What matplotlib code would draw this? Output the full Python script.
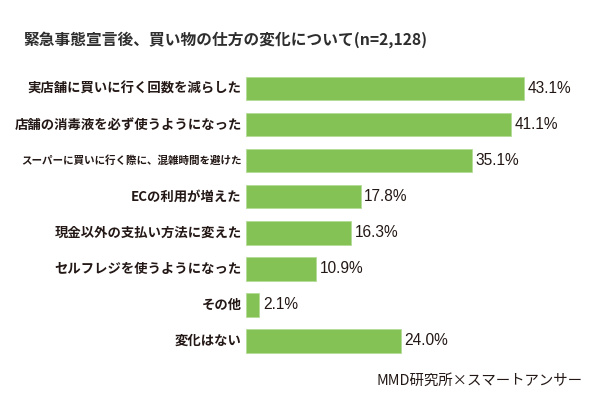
import matplotlib.pyplot as plt

plt.rcParams['font.family'] = ['Noto Sans CJK JP', 'DejaVu Sans']

# データ
categories = [
    "実店舗に買いに行く回数を減らした",
    "店舗の消毒液を必ず使うようになった",
    "スーパーに買いに行く際に、混雑時間を避けた",
    "ECの利用が増えた",
    "現金以外の支払い方法に変えた",
    "セルフレジを使うようになった",
    "その他",
    "変化はない",
]
values = [43.1, 41.1, 35.1, 17.8, 16.3, 10.9, 2.1, 24.0]
value_labels = ["43.1%", "41.1%", "35.1%", "17.8%", "16.3%", "10.9%", "2.1%", "24.0%"]

title = "緊急事態宣言後、買い物の仕方の変化について(n=2,128)"
source = "MMD研究所×スマートアンサー"

bar_color = "#84c255"
text_color = "#231815"

fig = plt.figure(figsize=(6, 4.15), dpi=100)
ax = fig.add_axes([245.7 / 600, 0.1354, 322.5 / 600, 0.695])

ypos = list(range(len(categories)))
ax.barh(ypos, values, height=0.66, color=bar_color, edgecolor="#b5dc98", linewidth=0.6)
ax.set_xlim(0, 50)
ax.set_ylim(len(categories) - 0.5, -0.5)
ax.axis("off")

# 項目ラベル（長いものは小さめに）
for y, cat in zip(ypos, categories):
    size = 7.6 if len(cat) > 18 else 9.6
    ax.text(-0.6, y, cat, ha="right", va="center", fontsize=size,
            fontweight="bold", color=text_color)

# 値ラベル
for y, v, lab in zip(ypos, values, value_labels):
    ax.text(v + 0.55, y, lab, ha="left", va="center", fontsize=11.2,
            family=["Liberation Sans", "DejaVu Sans"], color=text_color)

fig.text(23 / 600, 1 - 40 / 415, title, ha="left", va="center",
         fontsize=11.3, fontweight="bold", color="#2e2e2e")
fig.text(583 / 600, 1 - 380.5 / 415, source, ha="right", va="center",
         fontsize=10.4, color=text_color)

fig.savefig("out.png", dpi=100)
